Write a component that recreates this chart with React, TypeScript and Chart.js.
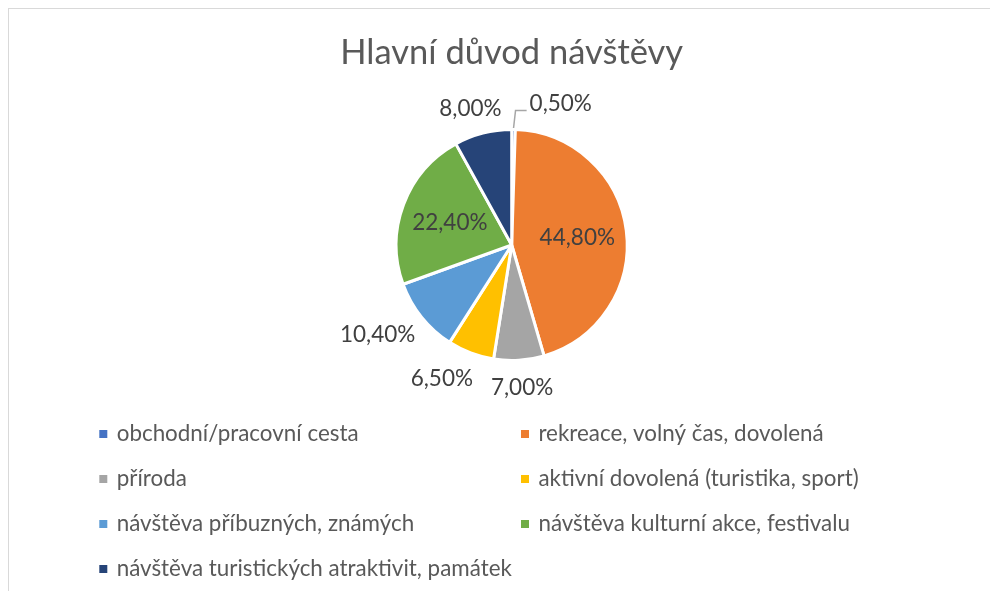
import { useEffect, useRef } from "react";
import { Chart, registerables } from "chart.js";

Chart.register(...registerables);

const chartTitle = "Hlavní důvod návštěvy";
const categories = [
  "obchodní/pracovní cesta",
  "rekreace, volný čas, dovolená",
  "příroda",
  "aktivní dovolená (turistika, sport)",
  "návštěva příbuzných, známých",
  "návštěva kulturní akce, festivalu",
  "návštěva turistických atraktivit, památek",
];
const shares = [0.5, 44.8, 7.0, 6.5, 10.4, 22.4, 8.0];
const sliceColors = ["#4472C4", "#ED7D31", "#A5A5A5", "#FFC000", "#5B9BD5", "#70AD47", "#264478"];

const FONT = "Lato, 'Open Sans', sans-serif";
const LABEL_SIZE = 22.5;
const LEGEND_SIZE = 22.4;
const TITLE_SIZE = 34.5;

const CANVAS_W = 981;
const CANVAS_H = 582;
const PIE_CX = 502.7;
const PIE_CY = 236;
const PIE_R = 115.5;

const fmt = (v: number) => v.toFixed(2).replace(".", ",") + "%";

const titlePlugin = {
  id: "excelTitle",
  afterDraw(chart: any) {
    const ctx = chart.ctx;
    const arc = chart.getDatasetMeta(0).data[0];
    ctx.save();
    ctx.font = `${TITLE_SIZE}px ${FONT}`;
    ctx.fillStyle = "#595959";
    ctx.textAlign = "center";
    ctx.textBaseline = "alphabetic";
    ctx.fillText(chartTitle, arc ? arc.x : chart.width / 2, 55);
    ctx.restore();
  },
};

const labelPlugin = {
  id: "pieLabels",
  afterDatasetsDraw(chart: any) {
    const ctx = chart.ctx;
    const meta = chart.getDatasetMeta(0);
    const data: number[] = chart.data.datasets[0].data;
    const total = data.reduce((a, b) => a + b, 0);
    ctx.save();
    ctx.font = `${LABEL_SIZE}px ${FONT}`;
    const h = 16;
    const minGap = 18;
    const boxes: any[] = meta.data.map((arc: any, i: number) => {
      const { x, y, startAngle, endAngle, outerRadius } = arc.getProps(
        ["x", "y", "startAngle", "endAngle", "outerRadius"],
        true
      );
      const mid = (startAngle + endAngle) / 2;
      const ux = Math.cos(mid);
      const uy = Math.sin(mid);
      const text = fmt(data[i]);
      const w = ctx.measureText(text).width;
      const r = outerRadius - 1.5;
      const inside = data[i] / total > 0.15;
      let cx: number, cy: number;
      if (inside) {
        cx = x + ux * r * 0.58;
        cy = y + uy * r * 0.58;
      } else {
        cx = x + ux * (r + 20) + (ux * w) / 2;
        cy = y + uy * (r + 20) + (uy * h) / 2;
      }
      return { i, text, cx, cy, w, inside, ax: x + ux * (r + 3), ay: y + uy * (r + 3), moved: false, v: data[i] };
    });
    const outs = boxes.filter((b) => !b.inside);
    for (const a of outs) {
      for (const b of outs) {
        if (a === b || a.v >= b.v) continue;
        const gapX = Math.abs(a.cx - b.cx) - (a.w + b.w) / 2;
        const overlapY = Math.abs(a.cy - b.cy) < h + 4;
        if (gapX < minGap && overlapY) {
          const dir = a.cx >= b.cx ? 1 : -1;
          let nx = b.cx + dir * ((b.w + a.w) / 2 + minGap);
          if (Math.abs(nx - a.cx) > 25) {
            nx += dir * 10;
            a.moved = true;
          }
          a.cx = nx;
        }
      }
    }
    for (const b of boxes) {
      if (b.moved) {
        ctx.strokeStyle = "#A6A6A6";
        ctx.lineWidth = 1.5;
        ctx.beginPath();
        const ly = b.cy + 7.5;
        const ex = b.cx - b.w / 2 - 3;
        ctx.moveTo(b.ax, b.ay);
        ctx.lineTo(b.ax + 2, ly);
        ctx.lineTo(ex, ly);
        ctx.stroke();
      }
      ctx.fillStyle = "#404040";
      ctx.textAlign = "center";
      ctx.textBaseline = "alphabetic";
      ctx.fillText(b.text, b.cx, b.cy + 0.36 * LABEL_SIZE);
    }
    ctx.restore();
  },
};

const LEG_X0 = 90.3;
const LEG_COL = 421.7;
const LEG_BASE0 = 432;
const LEG_ROW = 45;

const legendPlugin = {
  id: "gridLegend",
  afterDraw(chart: any) {
    const ctx = chart.ctx;
    const labels: string[] = chart.data.labels;
    const cols: string[] = chart.data.datasets[0].backgroundColor;
    ctx.save();
    ctx.font = `${LEGEND_SIZE}px ${FONT}`;
    ctx.textAlign = "left";
    ctx.textBaseline = "alphabetic";
    labels.forEach((lab, i) => {
      const col = i % 2;
      const row = Math.floor(i / 2);
      const x = LEG_X0 + col * LEG_COL;
      const base = LEG_BASE0 + row * LEG_ROW;
      ctx.fillStyle = cols[i];
      ctx.fillRect(x, base - 11, 8, 8);
      ctx.fillStyle = "#595959";
      ctx.fillText(lab, x + 17.4, base);
    });
    ctx.restore();
  },
};

export default function App() {
  const ref = useRef<HTMLCanvasElement | null>(null);
  useEffect(() => {
    if (!ref.current) return;
    const chart = new Chart(ref.current, {
      type: "pie",
      data: {
        labels: categories,
        datasets: [
          {
            data: shares,
            backgroundColor: sliceColors,
            borderColor: "#FFFFFF",
            borderWidth: 3,
            hoverOffset: 0,
            radius: PIE_R,
          } as any,
        ],
      },
      options: {
        animation: false,
        responsive: false,
        layout: {
          padding: {
            left: PIE_CX - PIE_R,
            right: CANVAS_W - (PIE_CX + PIE_R),
            top: PIE_CY - PIE_R,
            bottom: CANVAS_H - (PIE_CY + PIE_R),
          },
        },
        plugins: {
          legend: { display: false },
          title: { display: false },
          tooltip: { enabled: false },
        },
      },
      plugins: [titlePlugin, labelPlugin, legendPlugin],
    });
    return () => chart.destroy();
  }, []);
  return (
    <div
      style={{
        width: CANVAS_W + 1,
        height: CANVAS_H + 1,
        boxSizing: "border-box",
        borderLeft: "1px solid #D9D9D9",
        borderTop: "1px solid #D9D9D9",
        background: "#FFFFFF",
      }}
    >
      <canvas
        ref={ref}
        width={CANVAS_W}
        height={CANVAS_H}
        style={{ display: "block", width: CANVAS_W, height: CANVAS_H }}
      />
    </div>
  );
}
